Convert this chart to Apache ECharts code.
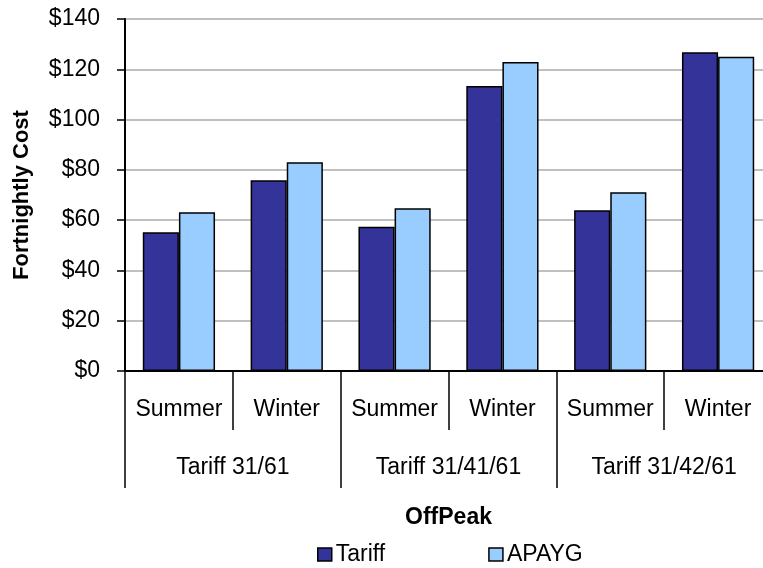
<!DOCTYPE html>
<html>
<head>
<meta charset="utf-8">
<script src="https://cdn.jsdelivr.net/npm/echarts@6/dist/echarts.min.js"></script>
<style>
  html, body { margin: 0; padding: 0; background: #fff; overflow: hidden; }
  /* the plot runs a few pixels past the right edge, as in the original */
  #chart { width: 772px; height: 568px; }
</style>
</head>
<body>
<div id="chart"></div>
<script>
const seasons = ['Summer', 'Winter', 'Summer', 'Winter', 'Summer', 'Winter']
const tariffGroups = ['Tariff 31/61', 'Tariff 31/41/61', 'Tariff 31/42/61']
const tariffCost = [55.2, 75.9, 57.4, 113.4, 63.9, 126.8]
const apaygCost = [63.1, 83.0, 64.7, 122.9, 71.1, 125.0]
const yTicks = { min: 0, max: 140, interval: 20 }

const font = "'Liberation Sans', Arial, sans-serif"

const chart = echarts.init(document.getElementById('chart'))
chart.setOption({
  animation: false,
  textStyle: { fontFamily: font },
  grid: { left: 125, top: 19, right: 0, height: 352 },
  legend: {
    left: 317,
    top: 543,
    padding: 0,
    itemWidth: 14,
    itemHeight: 13,
    itemGap: 103,
    icon: 'rect',
    itemStyle: { borderColor: '#000', borderWidth: 1.5 },
    textStyle: { fontSize: 23, color: '#000', padding: [0, 0, 0, -1] },
    data: ['Tariff', 'APAYG']
  },
  xAxis: [
    {
      type: 'category',
      data: seasons,
      position: 'bottom',
      axisLine: { lineStyle: { color: '#000', width: 2 } },
      axisTick: { show: true, length: 59, lineStyle: { color: '#000', width: 1.5 } },
      axisLabel: { interval: 0, fontSize: 23, color: '#000', margin: 27 }
    },
    {
      type: 'category',
      data: tariffGroups,
      position: 'bottom',
      axisLine: { show: false },
      axisTick: { show: true, length: 117, lineStyle: { color: '#000', width: 1.5 } },
      axisLabel: { interval: 0, fontSize: 23, color: '#000', margin: 85 },
      name: 'OffPeak',
      nameLocation: 'middle',
      nameGap: 135,
      nameTextStyle: { fontSize: 23, fontWeight: 'bold', color: '#000' }
    }
  ],
  yAxis: {
    type: 'value',
    min: yTicks.min,
    max: yTicks.max,
    interval: yTicks.interval,
    name: 'Fortnightly Cost',
    nameLocation: 'middle',
    nameGap: 92,
    nameTextStyle: { fontSize: 22, fontWeight: 'bold', color: '#000' },
    axisLine: { show: true, lineStyle: { color: '#000', width: 2 } },
    axisTick: { show: true, length: 8, lineStyle: { color: '#000', width: 1.5 } },
    axisLabel: { fontSize: 23, color: '#000', margin: 25, formatter: v => '$' + v },
    splitLine: { lineStyle: { color: '#c0c0c0', width: 2 } }
  },
  series: [
    {
      name: 'Tariff',
      type: 'bar',
      data: tariffCost,
      barGap: '0%',
      barCategoryGap: '33%',
      itemStyle: { color: '#333399', borderColor: '#000', borderWidth: 1.5 }
    },
    {
      name: 'APAYG',
      type: 'bar',
      data: apaygCost,
      itemStyle: { color: '#99ccff', borderColor: '#000', borderWidth: 1.5 }
    }
  ]
})
</script>
</body>
</html>
